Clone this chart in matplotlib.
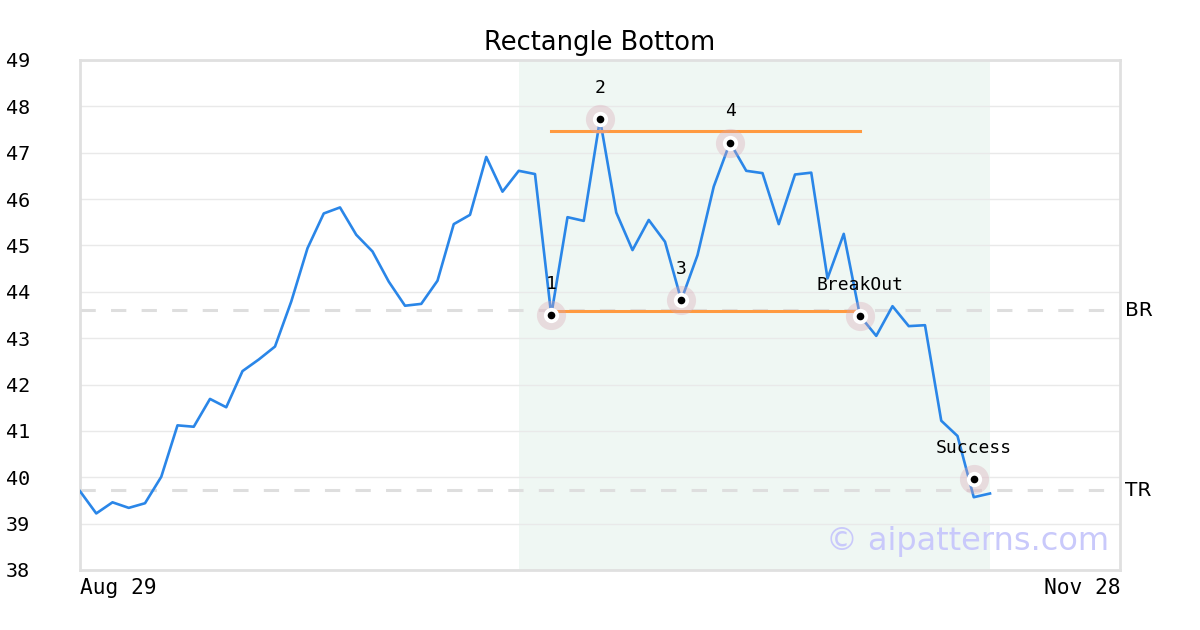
import matplotlib
matplotlib.use('Agg')
import matplotlib.pyplot as plt
import numpy as np

# closing prices, one per trading day from Aug 29
prices = [39.70, 39.22, 39.46, 39.34, 39.44, 40.01, 41.12, 41.09, 41.69, 41.51,
          42.29, 42.54, 42.82, 43.79, 44.94, 45.69, 45.82, 45.23, 44.87, 44.22,
          43.70, 43.74, 44.24, 45.46, 45.66, 46.91, 46.16, 46.61, 46.54, 43.50,
          45.61, 45.53, 47.72, 45.71, 44.90, 45.55, 45.08, 43.82, 44.79, 46.27,
          47.22, 46.61, 46.56, 45.46, 46.53, 46.57, 44.29, 45.25, 43.48, 43.05,
          43.69, 43.26, 43.28, 41.22, 40.89, 39.57, 39.65]

point_labels = ['1', '2', '3', '4', 'BreakOut', 'Success']
point_idx = [29, 32, 37, 40, 48, 55]
point_vals = [43.50, 47.72, 43.82, 47.22, 43.48, 39.96]

top_line = 47.47
bottom_line = 43.59
line_start, line_end = 29, 48
pattern_start, pattern_end = 27, 56

br_level = 43.60
tr_level = 39.72

x_labels = ['Aug 29', 'Nov 28']
n_slots = 64

fig = plt.figure(figsize=(12, 6.3), dpi=100)
ax = fig.add_axes([80 / 1200, 60 / 630, 1040 / 1200, 510 / 630])

ax.axvspan(pattern_start, pattern_end, color='#eff7f3', zorder=0, lw=0)
for yv in range(38, 50):
    ax.axhline(yv, color='#e9e9e9', lw=1, zorder=1)

for lvl in (br_level, tr_level):
    ax.axhline(lvl, color='#dedede', lw=2.2, dashes=(5, 5), zorder=2)

x = np.arange(len(prices))
ax.plot(x, prices, color='#2a86e8', lw=1.9, zorder=3)

ax.plot([line_start, line_end], [top_line, top_line], color='#ff9a40', lw=2.2, zorder=4)
ax.plot([line_start, line_end], [bottom_line, bottom_line], color='#ff9a40', lw=2.2, zorder=4)

ax.scatter(point_idx, point_vals, s=21 ** 2, color='#d9a7b5', alpha=0.35, lw=0, zorder=5)
ax.scatter(point_idx, point_vals, s=11 ** 2, color='white', lw=0, zorder=6)
ax.scatter(point_idx, point_vals, s=5.5 ** 2, color='black', lw=0, zorder=7)
for lab, i, v in zip(point_labels, point_idx, point_vals):
    ax.annotate(lab, (i, v), xytext=(0, 22.5), textcoords='offset points',
                ha='center', va='center', fontsize=13, family='DejaVu Sans Mono', zorder=8)

ax.text(n_slots + 0.3, br_level, 'BR', ha='left', va='center', fontsize=14.5,
        family='DejaVu Sans', clip_on=False)
ax.text(n_slots + 0.3, tr_level, 'TR', ha='left', va='center', fontsize=14.5,
        family='DejaVu Sans', clip_on=False)

ax.text(0.99, 0.025, '\u00a9 aipatterns.com', transform=ax.transAxes, ha='right',
        va='bottom', fontsize=23, color='#c9c9fb', zorder=9)

ax.set_xlim(0, n_slots)
ax.set_ylim(38, 49)
ax.set_yticks(range(38, 50))
ax.set_yticklabels([str(v) for v in range(38, 50)], family='DejaVu Sans Mono', fontsize=14.5)
ax.set_xticks([0, n_slots])
ax.set_xticklabels(x_labels, family='DejaVu Sans Mono', fontsize=15.3)
xt = ax.get_xticklabels()
xt[0].set_ha('left')
xt[1].set_ha('right')
ax.tick_params(axis='y', length=0, pad=36)
ax.tick_params(axis='x', length=0, pad=6)
for sp in ax.spines.values():
    sp.set_color('#e0e0e0')
    sp.set_linewidth(2)

ax.set_title('Rectangle Bottom', fontsize=18.5, pad=7)

fig.savefig('out.png', dpi=100)
